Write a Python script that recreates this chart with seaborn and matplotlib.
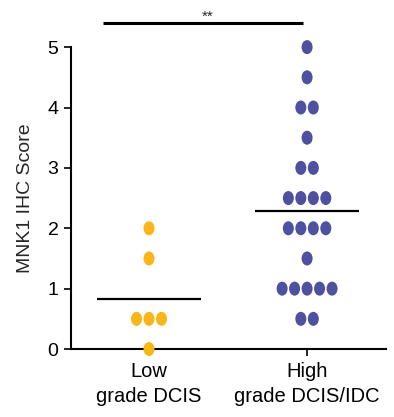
import numpy as np
import pandas as pd
import seaborn as sns
import matplotlib
matplotlib.use("Agg")
import matplotlib.pyplot as plt
from matplotlib.markers import MarkerStyle
from matplotlib.transforms import Affine2D

# ---- data ----
categories = ["Low\ngrade DCIS", "High\ngrade DCIS/IDC"]
low_scores = [2.0, 1.5, 0.5, 0.5, 0.5, 0.0]
high_scores = [5.0, 4.5, 4.0, 4.0, 3.5, 3.0, 3.0, 2.5, 2.5, 2.5, 2.5,
               2.0, 2.0, 2.0, 2.0, 1.5, 1.0, 1.0, 1.0, 1.0, 1.0, 0.5, 0.5]
group_colors = ["#F8B619", "#4E50A0"]
y_label = "MNK1 IHC Score"
significance = "**"
y_ticks = [0, 1, 2, 3, 4, 5]

sns.set_theme(style="ticks")
plt.rcParams["font.family"] = ["Liberation Sans", "DejaVu Sans"]

# build table with centred row offsets (Prism-style scatter dot plot)
step = 0.079
rows = []
for gi, vals in enumerate([low_scores, high_scores]):
    vals = np.asarray(vals)
    for v in np.unique(vals):
        n = int((vals == v).sum())
        for k in range(n):
            rows.append({"group": categories[gi], "score": v,
                         "x": gi + (k - (n - 1) / 2) * step})
df = pd.DataFrame(rows)

fig = plt.figure(figsize=(3.94, 4.17), dpi=100)
ax = fig.add_axes([0.180, 0.163, 0.800, 0.724])

ell = MarkerStyle("o", transform=Affine2D().scale(11 / 14, 1.0))
sns.scatterplot(data=df, x="x", y="score", hue="group", palette=group_colors,
                hue_order=categories, marker=ell, s=102, linewidth=0,
                legend=False, ax=ax, clip_on=False, zorder=5)

for gi, vals in enumerate([low_scores, high_scores]):
    ax.hlines(np.mean(vals), gi - 0.33, gi + 0.33, color="black", lw=1.6, zorder=4)

ax.set_xlim(-0.494, 1.5)
ax.set_ylim(0, 5)
ax.set_xticks([0, 1])
ax.set_xticklabels(categories, fontsize=14.5)
for lbl in ax.get_xticklabels():
    lbl.set_linespacing(1.42)
ax.set_yticks(y_ticks)
ax.set_yticklabels([str(t) for t in y_ticks], fontsize=14)
ax.set_xlabel("")
ax.set_ylabel(y_label, fontsize=14, labelpad=10)
for s in ["top", "right"]:
    ax.spines[s].set_visible(False)
for s in ["left", "bottom"]:
    ax.spines[s].set_linewidth(1.5)
    ax.spines[s].set_color("black")
ax.tick_params(axis="both", length=5, width=1.2, color="black", pad=4,
               labelcolor="black")

# significance bracket
ax.plot([-0.29, 0.975], [5.405, 5.405], color="black", lw=2.2,
        clip_on=False, solid_capstyle="butt")
ax.text(0.37, 5.43, significance, ha="center", va="baseline", fontsize=11)

fig.savefig("out.png", dpi=100)
